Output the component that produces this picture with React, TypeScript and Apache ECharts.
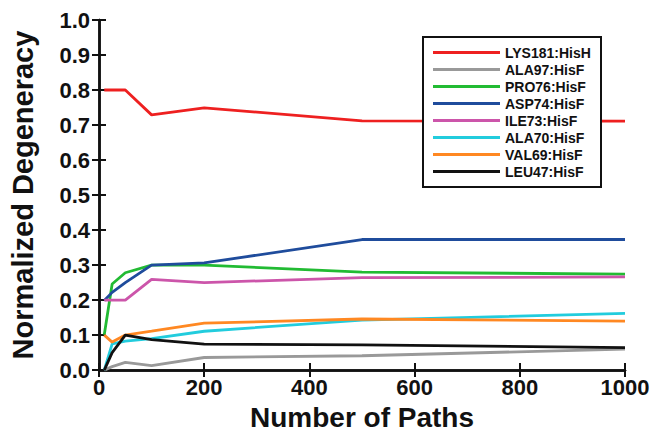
import React, { useEffect, useRef } from "react";
import * as echarts from "echarts";

const xValues = [10, 25, 50, 100, 200, 500, 1000];
const seriesNames = [
  "LYS181:HisH",
  "ALA97:HisF",
  "PRO76:HisF",
  "ASP74:HisF",
  "ILE73:HisF",
  "ALA70:HisF",
  "VAL69:HisF",
  "LEU47:HisF",
];
const lys181 = [0.8, 0.8, 0.8, 0.729, 0.749, 0.712, 0.711];
const ala97 = [0.0, 0.01, 0.022, 0.013, 0.036, 0.041, 0.06];
const pro76 = [0.101, 0.246, 0.278, 0.3, 0.3, 0.28, 0.274];
const asp74 = [0.199, 0.222, 0.25, 0.3, 0.306, 0.373, 0.373];
const ile73 = [0.2, 0.2, 0.2, 0.259, 0.25, 0.264, 0.266];
const ala70 = [0.0, 0.075, 0.083, 0.09, 0.111, 0.143, 0.162];
const val69 = [0.1, 0.08, 0.1, 0.111, 0.134, 0.146, 0.14];
const leu47 = [0.0, 0.05, 0.1, 0.087, 0.074, 0.072, 0.064];
const allValues = [lys181, ala97, pro76, asp74, ile73, ala70, val69, leu47];
const colors = ["#ee2020", "#999999", "#22bb33", "#1f4c9c", "#cc55aa", "#22ccdd", "#ff8822", "#111111"];
const xTicks = [0, 200, 400, 600, 800, 1000];
const yTickLabels = ["0.0", "0.1", "0.2", "0.3", "0.4", "0.5", "0.6", "0.7", "0.8", "0.9", "1.0"];

const FONT = "'Liberation Sans', Arial, sans-serif";

export default function App() {
  const ref = useRef<HTMLDivElement>(null);
  useEffect(() => {
    if (!ref.current) return;
    const chart = echarts.init(ref.current, null, { renderer: "svg" });
    const axisLine = { show: true, lineStyle: { color: "#111", width: 2.5 } };
    const axisTick = { show: true, inside: true, length: 7, lineStyle: { color: "#111", width: 2 } };
    chart.setOption({
      animation: false,
      backgroundColor: "#fff",
      grid: { left: 95, right: 30, top: 20, bottom: 58, containLabel: false },
      legend: {
        orient: "vertical",
        align: "left",
        left: 423,
        top: 37,
        z: 20,
        data: seriesNames,
        icon: "rect",
        itemWidth: 67,
        itemHeight: 3,
        itemGap: 0,
        borderColor: "#111",
        borderWidth: 2,
        padding: [7, 8, 7, 10],
        backgroundColor: "#fff",
        textStyle: {
          fontFamily: FONT,
          fontWeight: "bold",
          fontSize: 14,
          color: "#111",
          lineHeight: 17,
          width: 88,
          align: "left",
        },
      },
      xAxis: [
        {
          type: "value",
          min: 0,
          max: 1000,
          interval: 200,
          position: "bottom",
          name: "Number of Paths",
          nameLocation: "middle",
          nameGap: 30,
          nameTextStyle: { fontFamily: FONT, fontWeight: "bold", fontSize: 28, color: "#111", verticalAlign: "top" },
          axisLine,
          axisTick,
          splitLine: { show: false },
          axisLabel: {
            fontFamily: FONT,
            fontWeight: "bold",
            fontSize: 22,
            color: "#111",
            margin: 6,
            formatter: (v: number) => (xTicks.includes(v) ? String(v) : ""),
          },
        },
        {
          type: "value",
          min: 0,
          max: 1000,
          interval: 200,
          position: "top",
          axisLine,
          axisTick,
          splitLine: { show: false },
          axisLabel: { show: false },
        },
      ],
      yAxis: [
        {
          type: "value",
          min: 0,
          max: 1,
          interval: 0.1,
          position: "left",
          name: "Normalized Degeneracy",
          nameLocation: "middle",
          nameGap: 62,
          nameTextStyle: { fontFamily: FONT, fontWeight: "bold", fontSize: 29, color: "#111" },
          axisLine,
          axisTick,
          splitLine: { show: false },
          axisLabel: {
            fontFamily: FONT,
            fontWeight: "bold",
            fontSize: 22,
            color: "#111",
            margin: 9,
            formatter: (v: number) => yTickLabels[Math.round(v * 10)] ?? "",
          },
        },
        {
          type: "value",
          min: 0,
          max: 1,
          interval: 0.1,
          position: "right",
          axisLine,
          axisTick,
          splitLine: { show: false },
          axisLabel: { show: false },
        },
      ],
      series: seriesNames.map((name, i) => ({
        name,
        type: "line",
        xAxisIndex: 0,
        yAxisIndex: 0,
        data: xValues.map((x, j) => [x, allValues[i][j]]),
        showSymbol: false,
        symbol: "none",
        color: colors[i],
        lineStyle: { color: colors[i], width: 2.8 },
        z: 2,
      })),
    });
    return () => chart.dispose();
  }, []);
  return <div ref={ref} style={{ width: 655, height: 436, position: "absolute", left: 0, top: 0 }} />;
}
